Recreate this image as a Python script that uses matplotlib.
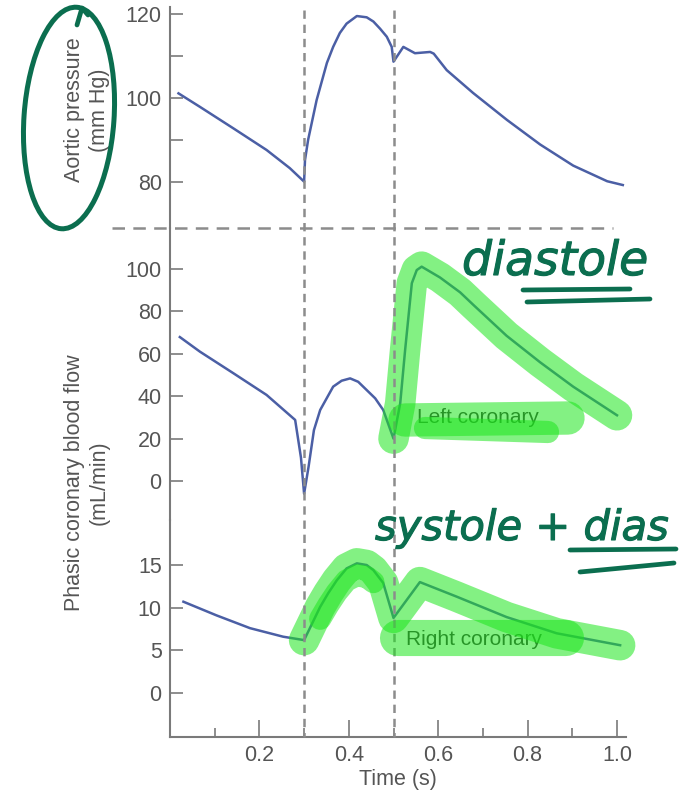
import matplotlib
matplotlib.use("Agg")
import matplotlib.pyplot as plt
from matplotlib.lines import Line2D
from matplotlib.patches import Ellipse
from matplotlib.ticker import FixedLocator, NullFormatter, FormatStrFormatter
import matplotlib.transforms as mtransforms
import matplotlib.patheffects as pe

plt.rcParams['font.family'] = ['Liberation Sans', 'DejaVu Sans']
plt.rcParams['lines.scale_dashes'] = False

# ---------------------------------------------------------------- data
aortic_t = [0.019, 0.067, 0.142, 0.216, 0.268, 0.300, 0.302, 0.309, 0.328,
            0.351, 0.365, 0.380, 0.395, 0.418, 0.440, 0.455, 0.470, 0.485,
            0.496, 0.500, 0.522, 0.548, 0.582, 0.590, 0.619, 0.678, 0.754,
            0.828, 0.902, 0.978, 1.013]
aortic_p = [101.1, 97.9, 92.8, 87.7, 83.4, 80.2, 85.3, 90.1, 99.5,
            108.3, 112.1, 115.4, 117.6, 119.4, 119.1, 118.1, 116.4, 114.5,
            112.1, 108.6, 112.1, 110.6, 110.9, 110.5, 106.6, 101.2, 94.8,
            89.0, 84.0, 80.3, 79.4]

left_t = [0.022, 0.067, 0.142, 0.216, 0.280, 0.293, 0.300, 0.310, 0.322,
          0.336, 0.365, 0.384, 0.403, 0.421, 0.440, 0.459, 0.477, 0.500,
          0.515, 0.526, 0.541, 0.552, 0.563, 0.604, 0.649, 0.679, 0.753,
          0.828, 0.902, 1.000]
left_flow = [67.9, 61.0, 50.8, 40.6, 28.8, 11.0, -6.0, 6.7, 24.0,
             33.5, 44.5, 47.3, 48.4, 46.8, 42.9, 39.0, 33.5, 20.0,
             36.6, 61.8, 93.3, 99.5, 101.1, 96.0, 89.0, 83.0, 68.5,
             56.0, 44.5, 31.0]

right_t = [0.030, 0.104, 0.179, 0.253, 0.300, 0.336, 0.354, 0.373, 0.395,
           0.418, 0.440, 0.455, 0.477, 0.500, 0.559, 0.641, 0.753, 0.865,
           1.007]
right_flow = [10.7, 9.1, 7.6, 6.6, 6.2, 10.1, 11.7, 13.2, 14.6,
              15.2, 15.0, 14.4, 12.9, 8.8, 13.0, 11.3, 8.9, 7.0,
              5.6]

aortic_ticks = [80, 100, 120]
aortic_minor = [90, 110]
left_ticks = [0, 20, 40, 60, 80, 100]
right_ticks = [0, 5, 10, 15]
time_ticks = [0.2, 0.4, 0.6, 0.8, 1.0]
time_minor = [0.1, 0.3, 0.5, 0.7, 0.9]
phase_marks = [0.3, 0.5]

# ---------------------------------------------------------------- style
W, H, DPI = 679, 800, 100
LINE = '#4b5fa5'
AXIS = '#7a7a7a'
TEXT = '#555555'
DASH = '#8c8c8c'
INK = '#0b6e4f'
HIGHLIGHT = '#1ee61e'

fig = plt.figure(figsize=(W / DPI, H / DPI), dpi=DPI)


def box(left, top, right, bottom):
    return [left / W, 1 - bottom / H, (right - left) / W, (bottom - top) / H]


def fpt(x, y):
    return (x / W, 1 - y / H)


X0, XR = 170, 170 + 1.02 * 447
ax_p = fig.add_axes(box(X0, 7, XR, 228))
ax_l = fig.add_axes(box(X0, 228, XR, 520))
ax_r = fig.add_axes(box(X0, 520, XR, 737))

ax_p.set_ylim(69.23, 121.54)
ax_l.set_ylim(-18.4, 119.34)
ax_r.set_ylim(-5.16, 20.28)

for ax in (ax_p, ax_l, ax_r):
    ax.set_xlim(0, 1.02)
    ax.patch.set_visible(False)
    for side in ('top', 'right', 'bottom'):
        ax.spines[side].set_visible(False)
    ax.spines['left'].set_color(AXIS)
    ax.spines['left'].set_linewidth(1.5)
    ax.tick_params(axis='y', which='both', direction='in', length=9,
                   width=1.2, color=AXIS, labelsize=15.5, labelcolor=TEXT,
                   pad=6)
    ax.yaxis.set_major_formatter(FormatStrFormatter('%d'))
    if ax is not ax_r:
        ax.set_xticks([])

ax_p.yaxis.set_major_locator(FixedLocator(aortic_ticks))
ax_p.yaxis.set_minor_locator(FixedLocator(aortic_minor))
ax_p.yaxis.set_minor_formatter(NullFormatter())
ax_l.yaxis.set_major_locator(FixedLocator(left_ticks))
ax_r.yaxis.set_major_locator(FixedLocator(right_ticks))

ax_r.spines['bottom'].set_visible(True)
ax_r.spines['bottom'].set_color(AXIS)
ax_r.spines['bottom'].set_linewidth(1.5)
ax_r.xaxis.set_major_locator(FixedLocator(time_ticks))
ax_r.xaxis.set_minor_locator(FixedLocator(time_minor))
ax_r.xaxis.set_major_formatter(FormatStrFormatter('%.1f'))
ax_r.tick_params(axis='x', which='major', direction='in', length=12,
                 width=1.2, color=AXIS, labelsize=15.5, labelcolor=TEXT, pad=6)
ax_r.tick_params(axis='x', which='minor', direction='in', length=6.5,
                 width=1.2, color=AXIS)
ax_r.set_xlabel('Time (s)', fontsize=15.5, color=TEXT, labelpad=2)

# ---------------------------------------------------------------- curves
ax_p.plot(aortic_t, aortic_p, color=LINE, lw=1.8, clip_on=False, zorder=3,
          solid_joinstyle='round')
ax_l.plot(left_t, left_flow, color=LINE, lw=1.8, clip_on=False, zorder=3,
          solid_joinstyle='round')
ax_r.plot(right_t, right_flow, color=LINE, lw=1.8, clip_on=False, zorder=3,
          solid_joinstyle='round')

ax_l.text(0.552, 30.0, 'Left coronary', fontsize=15, color='#333333',
          va='center', ha='left', zorder=4)
ax_r.text(0.527, 6.3, 'Right coronary', fontsize=15, color='#333333',
          va='center', ha='left', zorder=4)

# ---------------------------------------------------------------- guides
blend = mtransforms.blended_transform_factory(ax_r.transData, fig.transFigure)
for t in phase_marks:
    fig.add_artist(Line2D([t, t], [1 - 10 / H, 1 - 737 / H], transform=blend,
                          color=DASH, lw=1.8, dashes=(6, 4.2), zorder=1))
fig.add_artist(Line2D([112 / W, 613 / W], [1 - 228 / H, 1 - 228 / H],
                      transform=fig.transFigure, color=DASH, lw=1.8,
                      dashes=(9, 6), zorder=1))

# ---------------------------------------------------------------- axis titles
fig.text(87 / W, 1 - 110 / H, 'Aortic pressure\n(mm Hg)', rotation=90,
         ha='center', va='center', multialignment='center',
         fontsize=15.5, color=TEXT)
fig.text(87 / W, 1 - 483 / H, 'Phasic coronary blood flow\n(mL/min)',
         rotation=90, ha='center', va='center', multialignment='center',
         fontsize=15.5, color=TEXT)

# ---------------------------------------------------------------- marker pen
hl = dict(color=HIGHLIGHT, alpha=0.55, solid_capstyle='round',
          solid_joinstyle='round', clip_on=False, zorder=5)
i_left = left_t.index(0.500)
ax_l.plot(left_t[i_left:], left_flow[i_left:], lw=22, **hl)
i_right = right_t.index(0.300)
ax_r.plot(right_t[i_right:], right_flow[i_right:], lw=22, **hl)
ax_r.plot(right_t[i_right + 1:i_right + 8],
          [v - 1.4 for v in right_flow[i_right + 1:i_right + 8]],
          lw=16, **hl)

for (xa, ya), (xb, yb), w in [((405, 420), (568, 418), 24),
                              ((425, 428), (548, 432), 16),
                              ((398, 638), (566, 638), 26)]:
    fig.add_artist(Line2D([xa / W, xb / W], [1 - ya / H, 1 - yb / H],
                          transform=fig.transFigure, lw=w, **hl))

# ---------------------------------------------------------------- handwriting
ink_fx = [pe.withStroke(linewidth=0.8, foreground=INK)]
fig.text(*fpt(462, 275), 'diastole', fontsize=34, fontstyle='italic',
         family='DejaVu Sans', color=INK, ha='left', va='baseline',
         path_effects=ink_fx, zorder=6)
fig.text(*fpt(375, 540), 'systole + dias', fontsize=30,
         fontstyle='italic', family='DejaVu Sans', color=INK, ha='left',
         va='baseline', path_effects=ink_fx, zorder=6)

ink = dict(color=INK, lw=3.4, solid_capstyle='round', zorder=6)
for (xa, ya), (xb, yb) in [((523, 290), (630, 289)), ((527, 302), (650, 299)),
                           ((570, 550), (676, 549)), ((580, 572), (674, 563))]:
    fig.add_artist(Line2D([xa / W, xb / W], [1 - ya / H, 1 - yb / H],
                          transform=fig.transFigure, **ink))

fig.add_artist(Ellipse((69 / DPI, (H - 118) / DPI), 90 / DPI, 222 / DPI,
                       angle=-4, transform=fig.dpi_scale_trans, fill=False,
                       edgecolor=INK, lw=3.6, zorder=6))
fig.add_artist(Line2D([77 / W, 82 / W, 88 / W],
                      [1 - 25 / H, 1 - 8 / H, 1 - 15 / H],
                      transform=fig.transFigure, solid_joinstyle='round',
                      **ink))

fig.savefig('out.png', dpi=DPI)
